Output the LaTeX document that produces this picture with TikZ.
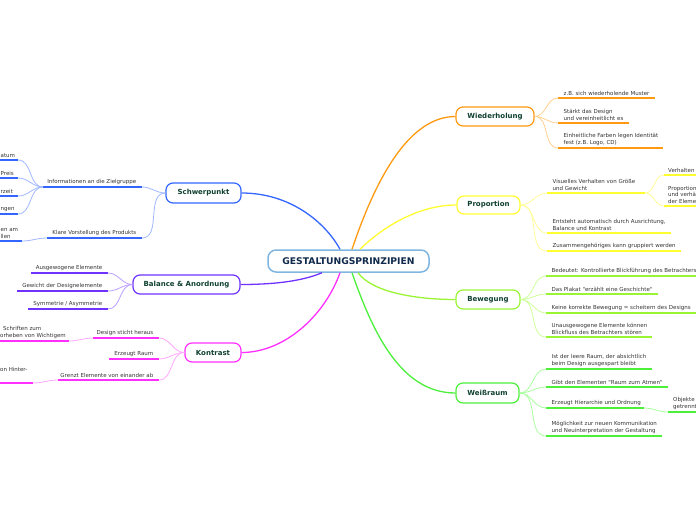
\documentclass[tikz,border=0pt]{standalone}
\usepackage{fontspec}
\usetikzlibrary{calc}
\newfontfamily\dvsans{DejaVu Sans}
\newcommand\fsub{\dvsans\fontsize{5.5}{6.7}\selectfont}
\newcommand\fmainn{\dvsans\bfseries\fontsize{7}{8}\selectfont}
\newcommand\fcent{\dvsans\bfseries\fontsize{9.2}{10}\selectfont}
\definecolor{txt}{HTML}{333333}
\definecolor{ntxt}{HTML}{0F4030}
\definecolor{ctxt}{HTML}{0F2A4A}
\definecolor{cbord}{HTML}{80B6E0}
\definecolor{orM}{HTML}{FF9A10}
\definecolor{orL}{HTML}{FFD090}
\definecolor{yeM}{HTML}{FFFF30}
\definecolor{yeL}{HTML}{FFFF99}
\definecolor{liM}{HTML}{99F533}
\definecolor{liL}{HTML}{CCFF99}
\definecolor{grM}{HTML}{4CF03A}
\definecolor{grL}{HTML}{AAFFA0}
\definecolor{blM}{HTML}{3366FF}
\definecolor{blL}{HTML}{A0B8FF}
\definecolor{puM}{HTML}{7033FF}
\definecolor{puL}{HTML}{BBA0FF}
\definecolor{maM}{HTML}{FF30FF}
\definecolor{maL}{HTML}{FFA8FF}
\tikzset{
  mainnode/.style={draw, rounded corners=7pt, line width=1.2pt, fill=white,
    font=\fmainn, text=ntxt, inner sep=0pt},
  centnode/.style={draw=cbord, rounded corners=8pt, line width=1.5pt, fill=white,
    font=\fcent, text=ctxt, inner sep=0pt, minimum width=161pt, minimum height=22pt},
  subtxt/.style={font=\fsub, text=txt, align=left, inner sep=0pt},
  uline/.style={line width=2.2pt},
  conn/.style={line width=1.3pt},
  subconn/.style={line width=0.8pt}
}
% right item: name, x, y, colour, text
\newcommand\ritem[5]{%
  \coordinate (#1s) at (#2,#3);
  \node[subtxt, anchor=south west] (#1) at ($(#1s)+(5.5,-2.3)$) {#5};
  \draw[uline,#4] (#1s) -- ($(#1.east |- #1s)+(5,0)$);
}
% left item: name, x, y, colour, text
\newcommand\litem[5]{%
  \coordinate (#1e) at (#2,#3);
  \node[subtxt, anchor=south east] (#1) at ($(#1e)+(-5.5,-2.3)$) {#5};
  \draw[uline,#4] ($(#1.west |- #1e)+(-5,0)$) -- (#1e);
}
% left edge item (text cut at the picture's left edge): name, x, y, colour, text
\newcommand\eitem[5]{%
  \coordinate (#1e) at (#2,#3);
  \node[subtxt, anchor=south west] (#1) at ($(0.5,#3)+(0,-2.3)$) {#5};
  \draw[uline,#4] (-5,#3) -- (#1e);
}
\begin{document}
\begin{tikzpicture}[x=1pt,y=-1pt]
\useasboundingbox (0,0) rectangle (696,520);
\clip (0,0) rectangle (696,520);

% main nodes
\node[centnode] (c) at (348.5,261) {GESTALTUNGSPRINZIPIEN};
\node[mainnode, draw=orM, minimum width=78pt, minimum height=19pt] (w) at (495,116.5) {Wiederholung};
\node[mainnode, draw=yeM, minimum width=63pt, minimum height=18pt] (p) at (488.5,205) {Proportion};
\node[mainnode, draw=liM, minimum width=64pt, minimum height=19pt] (b) at (488,299.5) {Bewegung};
\node[mainnode, draw=grM, minimum width=63pt, minimum height=20pt] (r) at (487.5,393) {Weißraum};
\node[mainnode, draw=blM, minimum width=75pt, minimum height=20pt] (s) at (203.5,193) {Schwerpunkt};
\node[mainnode, draw=puM, minimum width=107pt, minimum height=19pt] (a) at (186.5,284.5) {Balance \& Anordnung};
\node[mainnode, draw=maM, minimum width=56pt, minimum height=19pt] (k) at (213,352.5) {Kontrast};

% main connectors
\coordinate (cW) at ($(c.north)+(3.5,0)$);
\coordinate (cP) at ($(c.north)+(11.5,0)$);
\coordinate (cS) at ($(c.north)+(-8.5,0)$);
\coordinate (cA) at ($(c.south)+(-26.5,0)$);
\coordinate (cK) at ($(c.south)+(-8.5,0)$);
\coordinate (cR) at ($(c.south)+(3.5,0)$);
\coordinate (cB) at ($(c.south)+(9.5,0)$);
\draw[conn, orM] (cW) .. controls (372,190) and (405,116.5) .. (w.west);
\draw[conn, yeM] (cP) .. controls (385,225) and (420,205) .. (p.west);
\draw[conn, blM] (cS) .. controls (325,222) and (290,193) .. (s.east);
\draw[conn, puM] (cA) .. controls (300,282) and (270,284.5) .. (a.east);
\draw[conn, maM] (cK) .. controls (325,315) and (285,352.5) .. (k.east);
\draw[conn, liM] (cB) .. controls (372,292) and (415,299.5) .. (b.west);
\draw[conn, grM] (cR) .. controls (372,330) and (400,393) .. (r.west);

% Wiederholung
\ritem{w1}{558}{98}{orM}{z.B. sich wiederholende Muster}
\ritem{w2}{558}{123}{orM}{Stärkt das Design\\und vereinheitlicht es}
\ritem{w3}{558}{148}{orM}{Einheitliche Farben legen Identität\\fest (z.B. Logo, CD)}
\foreach \i in {w1s,w2s,w3s} \draw[subconn, orL] (w.east) to[out=0,in=180] (\i);

% Proportion
\coordinate (p1s) at (547,193);
\coordinate (p1e) at (645,193);
\node[subtxt, anchor=south west] (p1) at ($(p1s)+(5.5,-2.3)$) {Visuelles Verhalten von Größe\\und Gewicht};
\draw[uline, yeM] (p1s) -- (p1e);
\ritem{p2}{547}{233}{yeM}{Entsteht automatisch durch Ausrichtung,\\Balance und Kontrast}
\ritem{p3}{547}{251}{yeM}{Zusammengehöriges kann gruppiert werden}
\foreach \i in {p1s,p2s,p3s} \draw[subconn, yeL] (p.east) to[out=0,in=180] (\i);
\coordinate (p1as) at (664,175);
\coordinate (p1bs) at (664,206);
\node[subtxt, anchor=south west] (p1a) at ($(p1as)+(4,-2.3)$) {Verhalten};
\node[subtxt, anchor=south west] (p1b) at ($(p1bs)+(4,-2.3)$) {Proportion\\und verhä\\der Eleme};
\draw[uline, yeM] (p1as) -- (700,175);
\draw[uline, yeM] (p1bs) -- (700,206);
\draw[subconn, yeL] (p1e) to[out=0,in=180] (p1as);
\draw[subconn, yeL] (p1e) to[out=0,in=180] (p1bs);

% Bewegung
\ritem{b1}{546}{276}{liM}{Bedeutet: Kontrollierte Blickführung des Betrachters}
\ritem{b2}{546}{294}{liM}{Das Plakat "erzählt eine Geschichte"}
\ritem{b3}{546}{313}{liM}{Keine korrekte Bewegung = scheitern des Designs}
\ritem{b4}{546}{337}{liM}{Unausgewogene Elemente können\\Blickfluss des Betrachters stören}
\foreach \i in {b1s,b2s,b3s,b4s} \draw[subconn, liL] (b.east) to[out=0,in=180] (\i);

% Weissraum
\ritem{r1}{546}{369}{grM}{Ist der leere Raum, der absichtlich\\beim Design ausgespart bleibt}
\ritem{r2}{546}{387}{grM}{Gibt den Elementen "Raum zum Atmen"}
\coordinate (r3s) at (546,408);
\coordinate (r3e) at (644,408);
\node[subtxt, anchor=south west] (r3) at ($(r3s)+(5.5,-2.3)$) {Erzeugt Hierarchie und Ordnung};
\draw[uline, grM] (r3s) -- (r3e);
\ritem{r4}{546}{436}{grM}{Möglichkeit zur neuen Kommunikation\\und Neuinterpretation der Gestaltung}
\foreach \i in {r1s,r2s,r3s,r4s} \draw[subconn, grL] (r.east) to[out=0,in=180] (\i);
\coordinate (r3as) at (668,412);
\node[subtxt, anchor=south west] (r3a) at ($(r3as)+(5,-2.3)$) {Objekte\\getrennt};
\draw[uline, grM] (r3as) -- (700,412);
\draw[subconn, grL] (r3e) to[out=0,in=180] (r3as);

% Schwerpunkt
\coordinate (s1e) at (142,187);
\coordinate (s1s) at (43,187);
\node[subtxt, anchor=south east] (s1) at ($(s1e)+(-5.5,-2.3)$) {Informationen an die Zielgruppe};
\draw[uline, blM] (s1s) -- (s1e);
\coordinate (s2e) at (142,238);
\coordinate (s2s) at (47,238);
\node[subtxt, anchor=south east] (s2) at ($(s2e)+(-5.5,-2.3)$) {Klare Vorstellung des Produkts};
\draw[uline, blM] (s2s) -- (s2e);
\foreach \i in {s1e,s2e} \draw[subconn, blL] (s.west) to[out=180,in=0] (\i);
\eitem{s1a}{18}{160}{blM}{atum}
\eitem{s1b}{18}{178}{blM}{Preis}
\eitem{s1c}{18}{196}{blM}{rzeit}
\eitem{s1d}{18}{214}{blM}{ngen}
\foreach \i in {s1ae,s1be,s1ce,s1de} \draw[subconn, blL] (s1s) to[out=180,in=0] (\i);
\coordinate (s2ae) at (22,241);
\node[subtxt, anchor=south west] (s2a) at (0.5,238.7) {en am\\llen};
\draw[uline, blM] (-5,241) -- (s2ae);
\draw[subconn, blL] (s2s) to[out=180,in=0] (s2ae);

% Balance & Anordnung
\litem{a1}{108}{273}{puM}{Ausgewogene Elemente}
\litem{a2}{108}{291}{puM}{Gewicht der Designelemente}
\litem{a3}{108}{309}{puM}{Symmetrie / Asymmetrie}
\foreach \i in {a1e,a2e,a3e} \draw[subconn, puL] (a.west) to[out=180,in=0] (\i);

% Kontrast
\coordinate (k1e) at (159,338);
\coordinate (k1s) at (93,338);
\node[subtxt, anchor=south east] (k1) at ($(k1e)+(-5.5,-2.3)$) {Design sticht heraus};
\draw[uline, maM] (k1s) -- (k1e);
\litem{k2}{159}{359}{maM}{Erzeugt Raum}
\coordinate (k3e) at (159,380);
\coordinate (k3s) at (58,380);
\node[subtxt, anchor=south east] (k3) at ($(k3e)+(-5.5,-2.3)$) {Grenzt Elemente von einander ab};
\draw[uline, maM] (k3s) -- (k3e);
\foreach \i in {k1e,k2e,k3e} \draw[subconn, maL] (k.west) to[out=180,in=0] (\i);
\coordinate (k1ae) at (69,341);
\node[subtxt, anchor=south west] (k1a) at (0,338.7) {\hspace*{3pt}Schriften zum\\orheben von Wichtigem};
\draw[uline, maM] (-5,341) -- (k1ae);
\draw[subconn, maL] (k1s) to[out=180,in=0] (k1ae);
\coordinate (k3ae) at (33,383);
\node[subtxt, anchor=base west] (k3a) at (0,371.5) {on Hinter-};
\draw[uline, maM] (-5,383) -- (k3ae);
\draw[subconn, maL] (k3s) to[out=180,in=0] (k3ae);
\end{tikzpicture}
\end{document}
